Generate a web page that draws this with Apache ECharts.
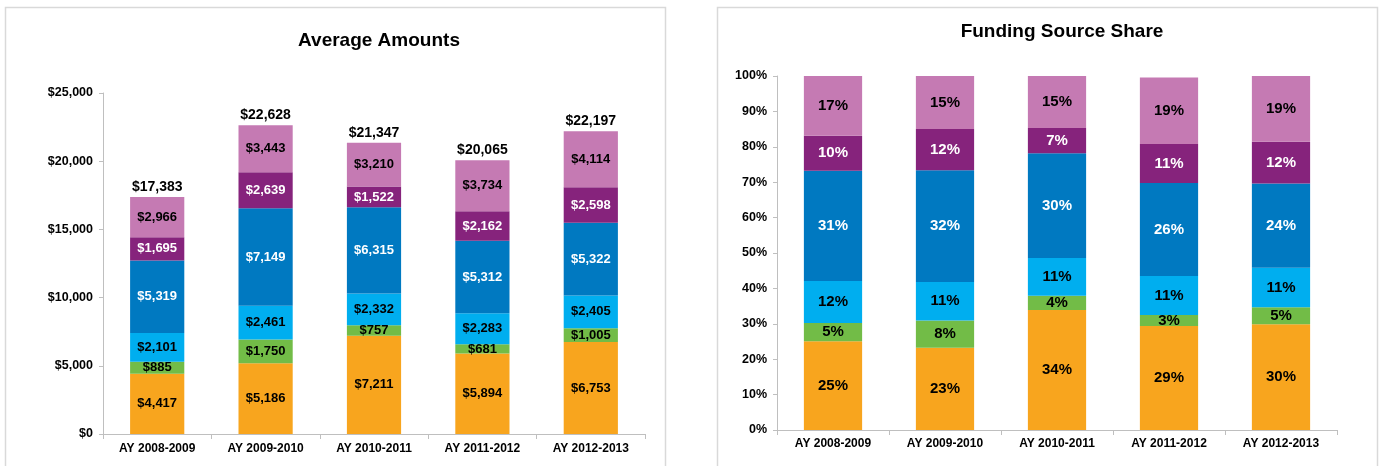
<!DOCTYPE html>
<html>
<head>
<meta charset="utf-8">
<script src="https://cdn.jsdelivr.net/npm/echarts@6/dist/echarts.min.js"></script>
<style>
  html, body { margin: 0; padding: 0; background: #fff; }
  #chart { width: 1380px; height: 466px; }
</style>
</head>
<body>
<div id="chart"></div>
<script>
// categories
const years = ["AY 2008-2009", "AY 2009-2010", "AY 2010-2011", "AY 2011-2012", "AY 2012-2013"];

// average amounts, bottom segment to top segment
const amtOrange = [4417, 5186, 7211, 5894, 6753];
const amtGreen = [885, 1750, 757, 681, 1005];
const amtCyan = [2101, 2461, 2332, 2283, 2405];
const amtBlue = [5319, 7149, 6315, 5312, 5322];
const amtPurple = [1695, 2639, 1522, 2162, 2598];
const amtPink = [2966, 3443, 3210, 3734, 4114];
const amtTotal = [17383, 22628, 21347, 20065, 22197];

// funding source share (%)
const shareOrange = [25.1, 23.2, 33.9, 29.4, 29.9];
const shareGreen = [5.1, 7.7, 4.0, 3.1, 4.8];
const shareCyan = [11.9, 10.9, 10.7, 11.0, 11.1];
const shareBlue = [31.1, 31.6, 29.6, 26.3, 23.8];
const sharePurple = [9.9, 11.6, 7.1, 11.0, 11.8];
const sharePink = [16.9, 15.0, 14.7, 18.8, 18.6];

const FONT = "'Liberation Sans', Arial, sans-serif";

const segments = [
  { name: "Orange", color: "#F8A51E", text: "#000", amt: amtOrange, share: shareOrange },
  { name: "Green", color: "#72BC47", text: "#000", amt: amtGreen, share: shareGreen },
  { name: "Cyan", color: "#00AEEF", text: "#000", amt: amtCyan, share: shareCyan },
  { name: "Blue", color: "#0079C1", text: "#fff", amt: amtBlue, share: shareBlue },
  { name: "Purple", color: "#86237C", text: "#fff", amt: amtPurple, share: sharePurple },
  { name: "Pink", color: "#C57AB3", text: "#000", amt: amtPink, share: sharePink },
];

const money = (v) => "$" + Math.round(v).toLocaleString("en-US");

const axisLineStyle = { color: "#BFBFBF", width: 1 };

function xAxisFor(idx, margin) {
  return {
    type: "category",
    gridIndex: idx,
    data: years,
    axisLine: { show: true, lineStyle: axisLineStyle },
    axisTick: { show: true, length: 5, lineStyle: axisLineStyle },
    axisLabel: { color: "#000", fontFamily: FONT, fontWeight: "bold", fontSize: 12, margin: margin },
  };
}

const series = [];
segments.forEach((s) => {
  series.push({
    name: s.name,
    type: "bar",
    stack: "amt",
    xAxisIndex: 0,
    yAxisIndex: 0,
    barWidth: "50%",
    barGap: "-100%",
    data: s.amt,
    itemStyle: { color: s.color },
    label: {
      show: true,
      position: "inside",
      color: s.text,
      fontFamily: FONT,
      fontWeight: "bold",
      fontSize: 13,
      formatter: (p) => money(p.value),
    },
  });
});
// totals: invisible bar behind the stack, only its label shows
series.push({
  name: "Total",
  type: "bar",
  xAxisIndex: 0,
  yAxisIndex: 0,
  barWidth: "50%",
  barGap: "-100%",
  data: amtTotal,
  itemStyle: { color: "rgba(255,255,255,0)" },
  label: {
    show: true,
    position: "top",
    distance: 3,
    color: "#000",
    fontFamily: FONT,
    fontWeight: "bold",
    fontSize: 14,
    formatter: (p) => money(p.value),
  },
  z: 1,
});
segments.forEach((s) => {
  series.push({
    name: s.name + " share",
    type: "bar",
    stack: "share",
    xAxisIndex: 1,
    yAxisIndex: 1,
    barWidth: "52%",
    data: s.share,
    itemStyle: { color: s.color },
    label: {
      show: true,
      position: "inside",
      color: s.text,
      fontFamily: FONT,
      fontWeight: "bold",
      fontSize: 15,
      formatter: (p) => Math.round(p.value) + "%",
    },
  });
});

const option = {
  backgroundColor: "#fff",
  animation: false,
  graphic: [
    {
      type: "rect",
      shape: { x: 5.5, y: 7.5, width: 660, height: 480 },
      style: { fill: "none", stroke: "#D9D9D9", lineWidth: 1.5 },
      z: -10,
    },
    {
      type: "rect",
      shape: { x: 717.5, y: 7.5, width: 660, height: 480 },
      style: { fill: "none", stroke: "#D9D9D9", lineWidth: 1.5 },
      z: -10,
    },
  ],
  title: [
    {
      text: "Average Amounts",
      left: 374,
      top: 26,
      textAlign: "center",
      textStyle: { fontFamily: FONT, fontWeight: "bold", fontSize: 19, color: "#000" },
    },
    {
      text: "Funding Source Share",
      left: 1057,
      top: 17,
      textAlign: "center",
      textStyle: { fontFamily: FONT, fontWeight: "bold", fontSize: 19, color: "#000" },
    },
  ],
  grid: [
    { left: 103, right: 735, top: 93, bottom: 32 },
    { left: 777, right: 43, top: 76, bottom: 36 },
  ],
  xAxis: [xAxisFor(0, 9), xAxisFor(1, 8)],
  yAxis: [
    {
      type: "value",
      gridIndex: 0,
      min: 0,
      max: 25000,
      interval: 5000,
      axisLine: { show: true, lineStyle: axisLineStyle },
      axisTick: { show: true, length: 4, lineStyle: axisLineStyle },
      splitLine: { show: false },
      axisLabel: {
        color: "#000",
        fontFamily: FONT,
        fontWeight: "bold",
        fontSize: 12.5,
        margin: 10,
        formatter: (v) => money(v),
      },
    },
    {
      type: "value",
      gridIndex: 1,
      min: 0,
      max: 100,
      interval: 10,
      axisLine: { show: true, lineStyle: axisLineStyle },
      axisTick: { show: true, length: 4, lineStyle: axisLineStyle },
      splitLine: { show: false },
      axisLabel: {
        color: "#000",
        fontFamily: FONT,
        fontWeight: "bold",
        fontSize: 12.5,
        margin: 10,
        formatter: "{value}%",
      },
    },
  ],
  series: series,
};

const myChart = echarts.init(document.getElementById("chart"));
myChart.setOption(option);
window.addEventListener("resize", () => {
  myChart.resize();
});
</script>
</body>
</html>
